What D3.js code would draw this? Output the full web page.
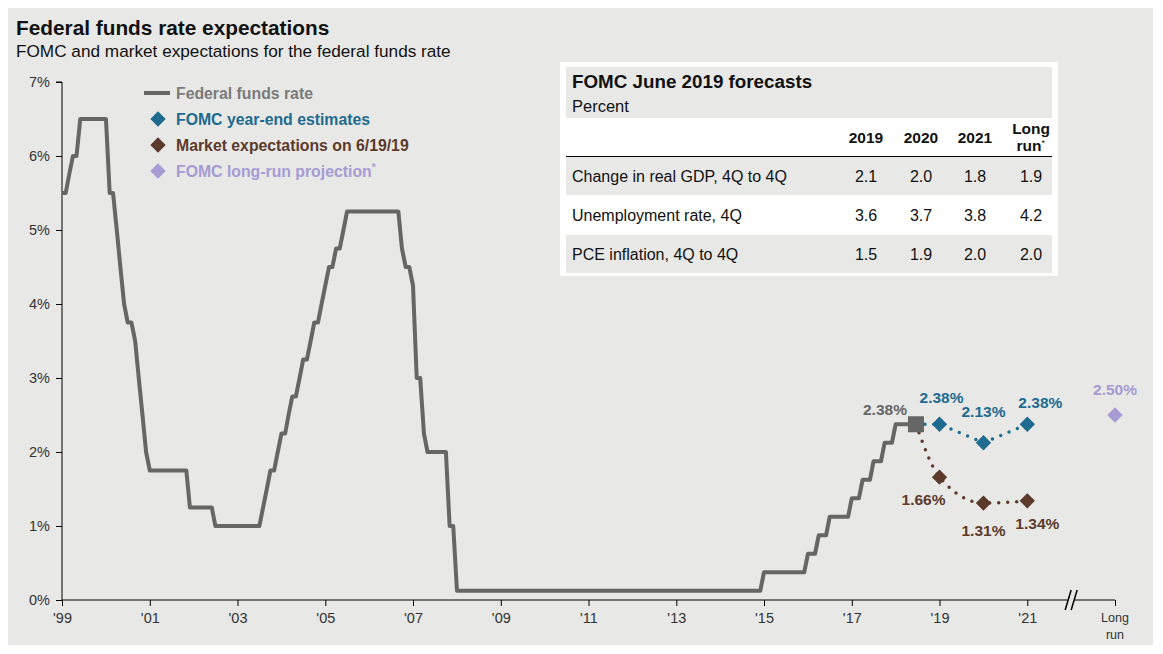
<!DOCTYPE html>
<html>
<head>
<meta charset="utf-8">
<script src="https://cdn.jsdelivr.net/npm/d3@7"></script>
<style>
  body { margin: 0; background: #fff; }
  svg { display: block; font-family: "Liberation Sans", Arial, sans-serif; }
</style>
</head>
<body>
<div id="chart"></div>
<script>
// Federal funds rate, first-of-month values where the line turns
var fedDates = ["2000-01","2000-02","2000-03","2000-04","2000-05","2000-06","2001-01","2001-02","2001-03","2001-04",
  "2001-05","2001-06","2001-07","2001-08","2001-09","2001-10","2001-11","2001-12","2002-01","2002-11","2002-12",
  "2003-06","2003-07","2004-07","2004-08","2004-09","2004-10","2004-11","2004-12","2005-01","2005-02","2005-03",
  "2005-04","2005-05","2005-06","2005-07","2005-08","2005-09","2005-10","2005-11","2005-12","2006-01","2006-02",
  "2006-03","2006-04","2006-05","2006-06","2006-07","2007-09","2007-10","2007-11","2007-12","2008-01","2008-02",
  "2008-03","2008-04","2008-05","2008-10","2008-11","2008-12","2009-01","2015-12","2016-01","2016-12","2017-01",
  "2017-03","2017-04","2017-06","2017-07","2017-12","2018-01","2018-03","2018-04","2018-06","2018-07","2018-09",
  "2018-10","2018-12","2019-01","2019-06"];
var fedRates = [5.5,5.5,5.75,6.0,6.0,6.5,6.5,5.5,5.5,5.0,
  4.5,4.0,3.75,3.75,3.5,3.0,2.5,2.0,1.75,1.75,1.25,
  1.25,1.0,1.0,1.25,1.5,1.75,1.75,2.0,2.25,2.25,2.5,
  2.75,2.75,3.0,3.25,3.25,3.5,3.75,3.75,4.0,4.25,4.5,
  4.5,4.75,4.75,5.0,5.25,5.25,4.75,4.5,4.5,4.25,3.0,
  3.0,2.25,2.0,2.0,1.0,1.0,0.125,0.125,0.375,0.375,0.625,
  0.625,0.875,0.875,1.125,1.125,1.375,1.375,1.625,1.625,1.875,1.875,
  2.125,2.125,2.375,2.375];

var currentDate = "2019-06-19";
var currentRate = 2.375;
var currentLabel = "2.38%";

// year-end points sit on the tick of that year (end of year)
var forecastDates = ["2020-01-01","2021-01-01","2022-01-01"];
var fomcValues = [2.375, 2.125, 2.375];
var fomcLabels = ["2.38%","2.13%","2.38%"];
var marketValues = [1.66, 1.31, 1.34];
var marketLabels = ["1.66%","1.31%","1.34%"];
var longRunDate = "2024-01-01";
var longRunValue = 2.5;
var longRunLabel = "2.50%";

var tickDates = ["2000-01-01","2002-01-01","2004-01-01","2006-01-01","2008-01-01","2010-01-01",
  "2012-01-01","2014-01-01","2016-01-01","2018-01-01","2020-01-01","2022-01-01"];
var tickLabels = ["'99","'01","'03","'05","'07","'09","'11","'13","'15","'17","'19","'21"];
var breakDate = "2023-01-01";
var yTicks = [0,1,2,3,4,5,6,7];

var tableCols = ["2019","2020","2021"];
var tableRows = ["Change in real GDP, 4Q to 4Q","Unemployment rate, 4Q","PCE inflation, 4Q to 4Q"];
var tableValues = [
  ["2.1","2.0","1.8","1.9"],
  ["3.6","3.7","3.8","4.2"],
  ["1.5","1.9","2.0","2.0"]
];

var legendItems = ["Federal funds rate","FOMC year-end estimates","Market expectations on 6/19/19","FOMC long-run projection"];

var W = 1163, H = 654;
var gray = "#666666", blue = "#1f6b8f", brown = "#5c3a2b", purple = "#a69bd3", bg = "#e8e8e7";

var parseM = d3.timeParse("%Y-%m"), parseD = d3.timeParse("%Y-%m-%d");

var svg = d3.select("#chart").append("svg").attr("width", W).attr("height", H);
svg.append("rect").attr("x", 8).attr("y", 8).attr("width", 1145).attr("height", 637).attr("fill", bg);

var x = d3.scaleTime().domain([parseD("2000-01-01"), parseD(longRunDate)]).range([62, 1115]);
var y = d3.scaleLinear().domain([0, 7]).range([600, 82]);

// titles
svg.append("text").attr("x", 16).attr("y", 35).attr("font-size", 20.8).attr("font-weight", "bold")
  .attr("fill", "#111").text("Federal funds rate expectations");
svg.append("text").attr("x", 16).attr("y", 57).attr("font-size", 17.2).attr("fill", "#111")
  .text("FOMC and market expectations for the federal funds rate");

// y axis
var yAxis = svg.append("g").attr("transform", "translate(62,0)")
  .call(d3.axisLeft(y).tickValues(yTicks).tickSize(6).tickPadding(6).tickFormat(function(d) { return d + "%"; }));
yAxis.selectAll("text").attr("font-size", 14.5).attr("fill", "#333").attr("font-family", "Liberation Sans, Arial");
yAxis.select(".domain").attr("d", "M-6,82H0V600");

// x axis
var xAxis = svg.append("g").attr("transform", "translate(0,600)")
  .call(d3.axisBottom(x).tickValues(tickDates.map(parseD).concat([parseD(longRunDate)]))
    .tickSize(6).tickPadding(7).tickFormat(function(d, i) { return tickLabels[i] || ""; }));
xAxis.selectAll("text").attr("font-size", 14.5).attr("fill", "#333").attr("font-family", "Liberation Sans, Arial");
xAxis.select(".domain").attr("d", "M62,0H1115");
xAxis.selectAll("line").attr("stroke", "#000");

// break marks
var bx = x(parseD(breakDate));
svg.append("rect").attr("x", bx - 3).attr("y", 596).attr("width", 6).attr("height", 8).attr("fill", bg);
[-3, 3].forEach(function(o) {
  svg.append("line").attr("x1", bx + o - 3).attr("y1", 610).attr("x2", bx + o + 3).attr("y2", 590)
    .attr("stroke", "#000").attr("stroke-width", 1.5);
});
var lr = svg.append("text").attr("text-anchor", "middle").attr("font-size", 12.5).attr("fill", "#333");
lr.append("tspan").attr("x", x(parseD(longRunDate))).attr("y", 622).text("Long");
lr.append("tspan").attr("x", x(parseD(longRunDate))).attr("y", 639).text("run");

// fed funds line
var fed = fedDates.map(function(d, i) { return [parseM(d), fedRates[i]]; });
fed.push([parseD(currentDate), currentRate]);
svg.append("path").datum(fed)
  .attr("d", d3.line().x(function(d) { return x(d[0]); }).y(function(d) { return y(d[1]); }))
  .attr("fill", "none").attr("stroke", gray).attr("stroke-width", 4).attr("stroke-linejoin", "round");

// dotted expectation paths
var start = [parseD(currentDate), currentRate];
var fomcPts = [start].concat(forecastDates.map(function(d, i) { return [parseD(d), fomcValues[i]]; }));
var mktPts = [start].concat(forecastDates.map(function(d, i) { return [parseD(d), marketValues[i]]; }));
svg.append("path").datum(fomcPts)
  .attr("d", d3.line().x(function(d) { return x(d[0]); }).y(function(d) { return y(d[1]); }))
  .attr("fill", "none").attr("stroke", blue).attr("stroke-width", 3.5)
  .attr("stroke-linecap", "round").attr("stroke-dasharray", "0,9");
svg.append("path").datum(mktPts)
  .attr("d", d3.line().curve(d3.curveMonotoneX).x(function(d) { return x(d[0]); }).y(function(d) { return y(d[1]); }))
  .attr("fill", "none").attr("stroke", brown).attr("stroke-width", 3.5)
  .attr("stroke-linecap", "round").attr("stroke-dasharray", "0,9");

var diamond = d3.symbol().type(d3.symbolDiamond2).size(150);

// current value square
svg.append("rect").attr("x", x(start[0]) - 8).attr("y", y(currentRate) - 8)
  .attr("width", 16).attr("height", 16).attr("fill", gray);
svg.append("text").attr("x", x(start[0]) - 9).attr("y", y(currentRate) - 9).attr("text-anchor", "end")
  .attr("font-size", 15.5).attr("font-weight", "bold").attr("fill", gray).text(currentLabel);

// FOMC diamonds
var fomcOff = [[2, -21], [0, -26], [13, -16]];
forecastDates.forEach(function(d, i) {
  var px = x(parseD(d)), py = y(fomcValues[i]);
  svg.append("path").attr("d", diamond).attr("transform", "translate(" + px + "," + py + ")").attr("fill", blue);
  svg.append("text").attr("x", px + fomcOff[i][0]).attr("y", py + fomcOff[i][1]).attr("text-anchor", "middle")
    .attr("font-size", 15.5).attr("font-weight", "bold").attr("fill", blue).text(fomcLabels[i]);
});

// market diamonds
var mktOff = [[-16, 28], [0, 33], [10, 28]];
forecastDates.forEach(function(d, i) {
  var px = x(parseD(d)), py = y(marketValues[i]);
  svg.append("path").attr("d", diamond).attr("transform", "translate(" + px + "," + py + ")").attr("fill", brown);
  svg.append("text").attr("x", px + mktOff[i][0]).attr("y", py + mktOff[i][1]).attr("text-anchor", "middle")
    .attr("font-size", 15.5).attr("font-weight", "bold").attr("fill", brown).text(marketLabels[i]);
});

// long run
var lx = x(parseD(longRunDate)), ly = y(longRunValue);
svg.append("path").attr("d", diamond).attr("transform", "translate(" + lx + "," + ly + ")").attr("fill", purple);
svg.append("text").attr("x", lx).attr("y", ly - 20).attr("text-anchor", "middle")
  .attr("font-size", 15.5).attr("font-weight", "bold").attr("fill", purple).text(longRunLabel);

// legend
var legendColors = ["#7a7a7a", blue, brown, purple];
var lg = svg.append("g").attr("transform", "translate(144,93)");
lg.append("line").attr("x1", 0).attr("x2", 26).attr("y1", 0).attr("y2", 0).attr("stroke", gray).attr("stroke-width", 4);
legendItems.forEach(function(t, i) {
  if (i > 0) lg.append("path").attr("d", diamond).attr("transform", "translate(14," + (i * 26) + ")").attr("fill", legendColors[i]);
  var tx = lg.append("text").attr("x", 32).attr("y", i * 26 + 5.5).attr("font-size", 15.8).attr("font-weight", "bold")
    .attr("fill", legendColors[i]).text(t);
  if (i === 3) tx.append("tspan").attr("dy", -6).attr("font-size", 10).text("*");
});

// forecast table
var tb = svg.append("g");
tb.append("rect").attr("x", 560).attr("y", 62).attr("width", 498).attr("height", 214).attr("fill", "#fff");
tb.append("rect").attr("x", 566).attr("y", 67).attr("width", 486).attr("height", 51).attr("fill", bg);
tb.append("text").attr("x", 572).attr("y", 88).attr("font-size", 18.8).attr("font-weight", "bold").attr("fill", "#111")
  .text("FOMC June 2019 forecasts");
tb.append("text").attr("x", 572).attr("y", 112).attr("font-size", 16.5).attr("fill", "#111").text("Percent");
var colX = [866, 921, 975, 1031];
tableCols.forEach(function(c, i) {
  tb.append("text").attr("x", colX[i]).attr("y", 143).attr("text-anchor", "middle").attr("font-size", 15.5)
    .attr("font-weight", "bold").attr("fill", "#111").text(c);
});
var lrh = tb.append("text").attr("text-anchor", "end").attr("font-size", 15.5).attr("font-weight", "bold").attr("fill", "#111");
lrh.append("tspan").attr("x", 1050).attr("y", 134).text("Long");
var rt = lrh.append("tspan").attr("x", 1045).attr("y", 151).text("run");
lrh.append("tspan").attr("dy", -5).attr("font-size", 9).attr("font-weight", "normal").text("*");
tb.append("line").attr("x1", 566).attr("x2", 1052).attr("y1", 156.5).attr("y2", 156.5).attr("stroke", "#000").attr("stroke-width", 1);
var rowY = [157, 196, 235];
tableRows.forEach(function(r, i) {
  if (i !== 1) tb.append("rect").attr("x", 566).attr("y", rowY[i]).attr("width", 486).attr("height", 38).attr("fill", bg);
  tb.append("text").attr("x", 572).attr("y", rowY[i] + 25).attr("font-size", 16).attr("fill", "#111").text(r);
  tableValues[i].forEach(function(v, j) {
    tb.append("text").attr("x", colX[j]).attr("y", rowY[i] + 25).attr("text-anchor", "middle")
      .attr("font-size", 16).attr("fill", "#111").text(v);
  });
});
</script>
</body>
</html>
